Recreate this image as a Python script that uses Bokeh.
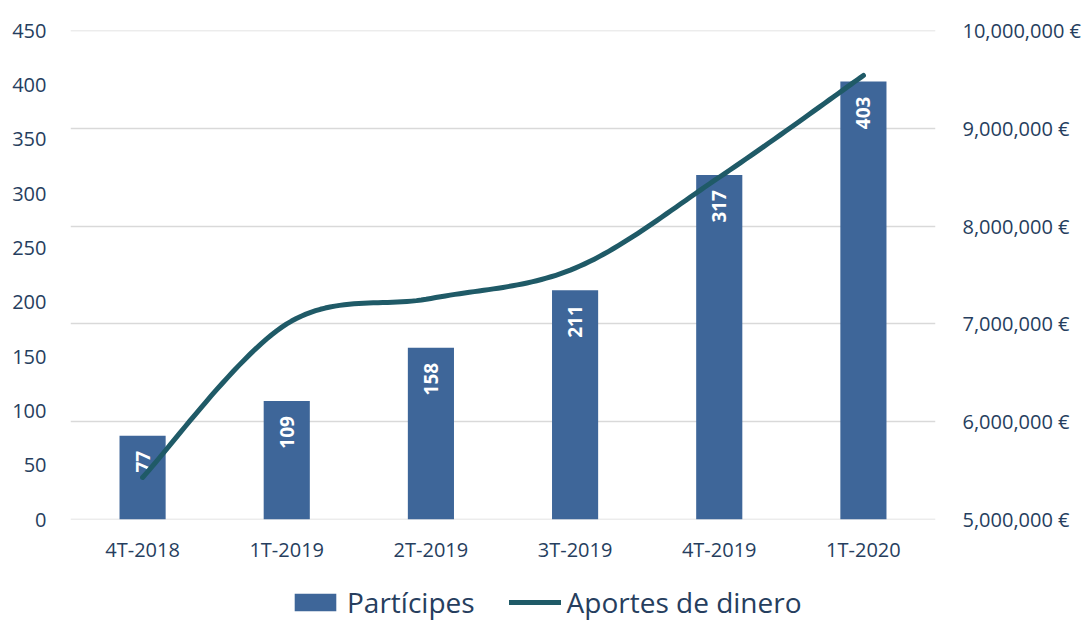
import math
import numpy as np
from bokeh.plotting import figure
from bokeh.layouts import column
from bokeh.models import (FactorRange, Range1d, LinearAxis, SingleIntervalTicker,
                          CustomJSTickFormatter, Grid, Legend, LegendItem, ColumnDataSource)
from bokeh.core.properties import value
from bokeh.embed import file_html
from bokeh.resources import INLINE

categories = ["4T-2018", "1T-2019", "2T-2019", "3T-2019", "4T-2019", "1T-2020"]
participes = [77, 109, 158, 211, 317, 403]
aportes = [5430000, 7000000, 7260000, 7570000, 8500000, 9540000]
left_ticks_interval = 50
right_ticks_interval = 1000000
series_names = ["Partícipes", "Aportes de dinero"]

FONT = "Open Sans"
TEXT_COLOR = "#263E5E"
BAR_COLOR = "#3E6699"
LINE_COLOR = "#1F5A67"
GRID_COLOR = "#D9D9D9"

p = figure(width=1089, height=569, x_range=FactorRange(factors=categories, range_padding=0),
           y_range=Range1d(0, 450), output_backend="svg", toolbar_location=None,
           min_border_left=70, min_border_right=154, min_border_top=30, min_border_bottom=50)
p.outline_line_color = None
p.background_fill_color = "white"
p.border_fill_color = "white"
p.xgrid.grid_line_color = None
p.ygrid.grid_line_color = None

# tiny epsilon so the grid also draws the lines at both ends of the range
p.extra_y_ranges = {"money": Range1d(4999999.5, 10000000.5)}

# bars
src = ColumnDataSource(dict(cat=categories, val=participes, lbl=[str(v) for v in participes]))
bars = p.vbar(x="cat", top="val", width=0.32, source=src, fill_color=BAR_COLOR, line_color=None)

# bar labels
p.text(x="cat", y="val", text="lbl", source=src, angle=math.pi / 2, text_align="right",
       text_baseline="middle", y_offset=15, text_color="white", text_font=value(FONT),
       text_font_style="bold", text_font_size="19px")

# smoothed line (Catmull-Rom through the data points)
xs_c = np.arange(len(categories)) + 0.5
ys_c = np.array(aportes, dtype=float)
px = np.concatenate([[xs_c[0]], xs_c, [xs_c[-1]]])
py = np.concatenate([[ys_c[0]], ys_c, [ys_c[-1]]])
sx, sy = [], []
for i in range(1, len(px) - 2):
    p0x, p1x, p2x, p3x = px[i - 1], px[i], px[i + 1], px[i + 2]
    p0y, p1y, p2y, p3y = py[i - 1], py[i], py[i + 1], py[i + 2]
    c1x, c1y = p1x + (p2x - p0x) / 6, p1y + (p2y - p0y) / 6
    c2x, c2y = p2x - (p3x - p1x) / 6, p2y - (p3y - p1y) / 6
    for t in np.linspace(0, 1, 30, endpoint=(i == len(px) - 3)):
        a = (1 - t) ** 3; b = 3 * (1 - t) ** 2 * t; c = 3 * (1 - t) * t ** 2; d = t ** 3
        sx.append(a * p1x + b * c1x + c * c2x + d * p2x)
        sy.append(a * p1y + b * c1y + c * c2y + d * p2y)
line = p.line(sx, sy, y_range_name="money", line_color=LINE_COLOR, line_width=5, line_cap="round",
              line_join="round")

# axes
p.yaxis.ticker = SingleIntervalTicker(interval=left_ticks_interval)
right = LinearAxis(y_range_name="money", ticker=SingleIntervalTicker(interval=right_ticks_interval),
                   formatter=CustomJSTickFormatter(code="return tick.toLocaleString('en-US') + ' \u20ac';"))
p.add_layout(right, "right")

grid = Grid(dimension=1, ticker=SingleIntervalTicker(interval=right_ticks_interval), y_range_name="money",
            grid_line_color=GRID_COLOR, grid_line_width=1.5)
p.add_layout(grid)

for ax in [p.yaxis[0], right, p.xaxis[0]]:
    ax.axis_line_color = None
    ax.major_tick_line_color = None
    ax.minor_tick_line_color = None
    ax.major_tick_out = 0
    ax.major_tick_in = 0
    ax.minor_tick_out = 0
    ax.minor_tick_in = 0
    ax.major_label_text_font = FONT
    ax.major_label_text_font_size = "20px"
    ax.major_label_text_color = TEXT_COLOR
p.yaxis[0].major_label_standoff = 24
right.major_label_standoff = 27
p.xaxis[0].major_label_standoff = 16

# legend strip underneath (hidden renderers only supply the legend glyph styles)
lg = figure(width=1089, height=52, x_range=Range1d(0, 1), y_range=Range1d(0, 1),
            output_backend="svg", toolbar_location=None, min_border=0)
lg.axis.visible = False
lg.grid.grid_line_color = None
lg.outline_line_color = None
lg_bar = lg.vbar(x=participes, top=participes, width=0.3, fill_color=BAR_COLOR, line_color=None,
                 visible=False)
lg_line = lg.line(x=participes, y=aportes, line_color=LINE_COLOR, line_width=5, line_cap="round",
                  visible=False)
legend = Legend(items=[LegendItem(label=series_names[0], renderers=[lg_bar]),
                       LegendItem(label=series_names[1], renderers=[lg_line])],
                orientation="horizontal", location=(219, 0), border_line_color=None,
                background_fill_alpha=0, padding=0, margin=0, spacing=34, label_standoff=6,
                glyph_width=52, glyph_height=22, label_text_font=FONT, label_text_font_size="28px",
                label_text_color=TEXT_COLOR, inactive_fill_alpha=0)
lg.add_layout(legend, "center")

layout = column(p, lg, spacing=0)
open("out.html", "w").write(file_html(layout, INLINE))
